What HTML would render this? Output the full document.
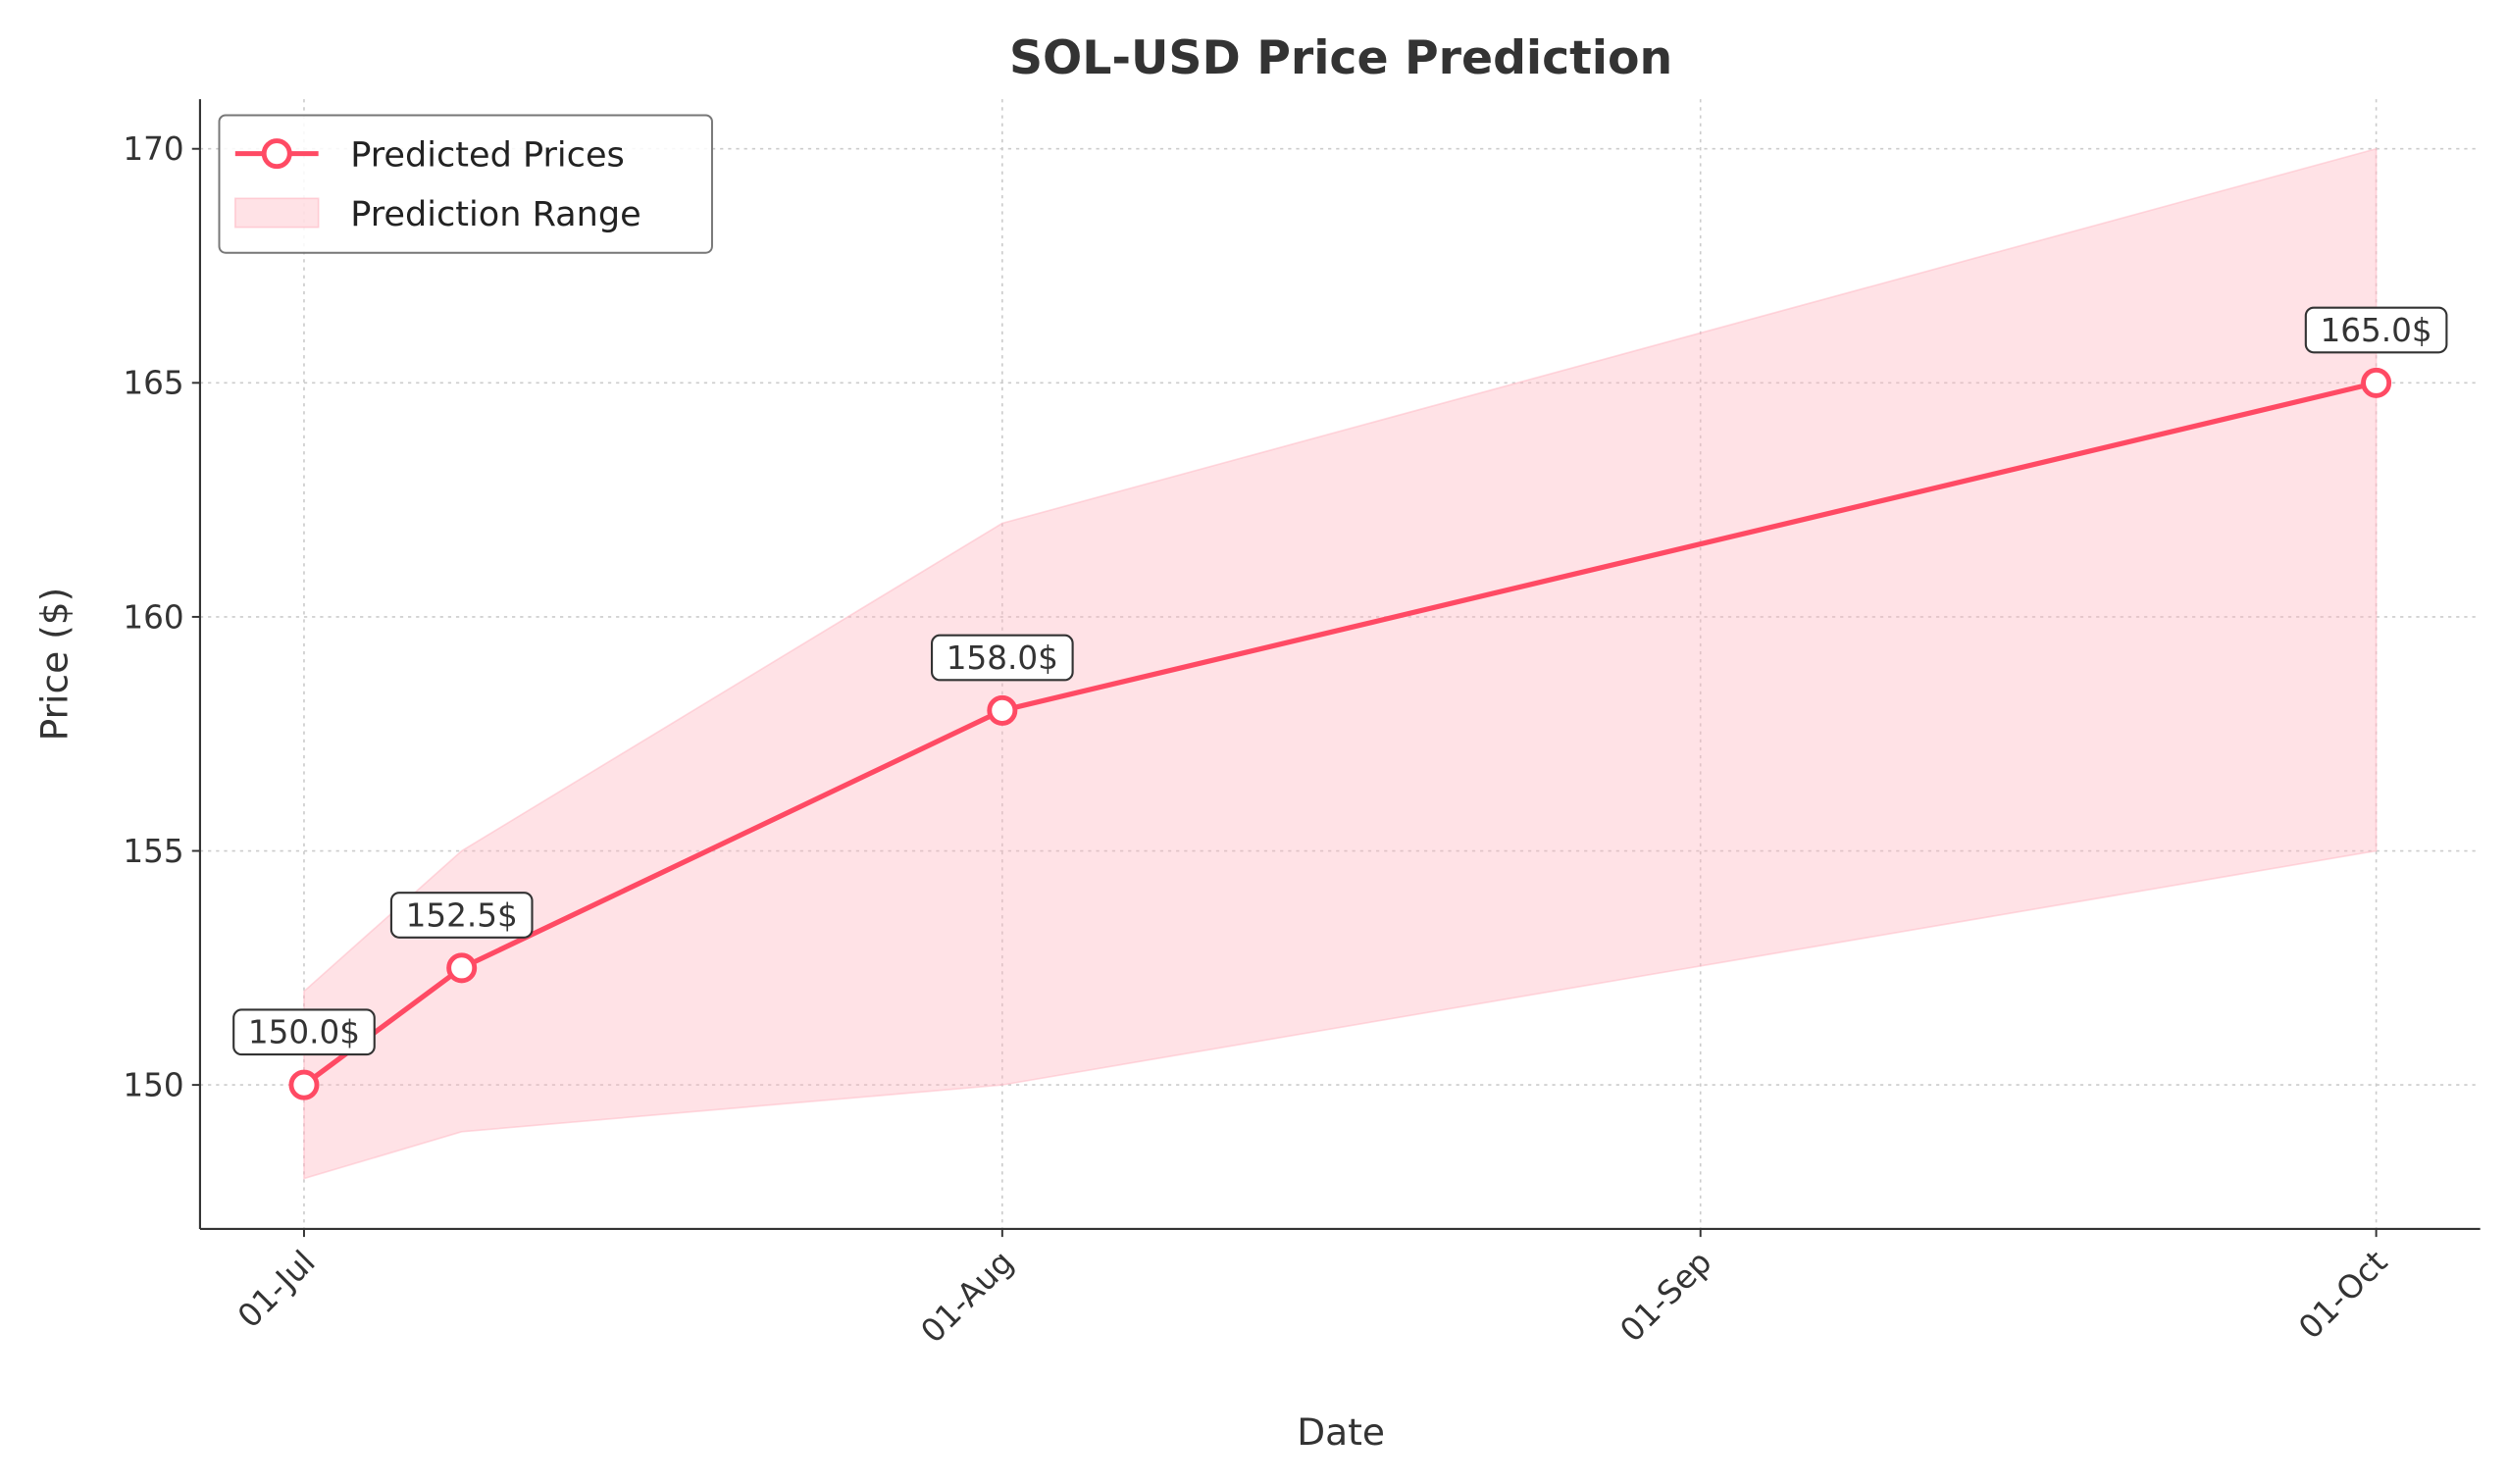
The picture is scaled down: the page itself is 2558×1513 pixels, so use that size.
<!DOCTYPE html>
<html><head><meta charset="utf-8"><style>
html,body{margin:0;padding:0;background:#fff;}
svg{display:block;font-family:"DejaVu Sans","Liberation Sans",sans-serif;}
</style></head><body>
<svg id="chart" width="2558" height="1513" viewBox="0 0 1568 927.4" preserveAspectRatio="none" xmlns="http://www.w3.org/2000/svg">
<rect width="1568" height="928" fill="#fff"/>
<text x="838" y="46" text-anchor="middle" font-size="29" font-weight="bold" fill="#333">SOL-USD Price Prediction</text>
<g id="grid"></g>
<g id="band"></g>
<g id="line"></g>
<g id="axes"></g>
<text x="838" y="903" text-anchor="middle" font-size="23" fill="#333">Date</text>
<text transform="translate(42,415) rotate(-90)" text-anchor="middle" font-size="23" fill="#333">Price ($)</text>
<g>
<rect x="137" y="72" width="308" height="86" rx="4" fill="#fff" fill-opacity="0.85" stroke="#777" stroke-width="1.2"/>
<line x1="147" y1="96" x2="199" y2="96" stroke="#ff4a64" stroke-width="3"/>
<circle cx="173" cy="96" r="8" fill="#fff" stroke="#ff4a64" stroke-width="3"/>
<text x="219" y="104" font-size="21.5" fill="#222">Predicted Prices</text>
<rect x="147" y="124" width="52" height="18" fill="#ffb6c1" fill-opacity="0.4" stroke="#ffb6c1" stroke-opacity="0.6"/>
<text x="219" y="141" font-size="21.5" fill="#222">Prediction Range</text>
</g>
</svg>
<script>
const dates=[0,7,31,92]; // days from 01-Jul
const predicted=[150.0,152.5,158.0,165.0];
const lower=[148,149,150,155];
const upper=[152,155,162,170];
const yTicks=[150,155,160,165,170];
const xTickDays=[0,31,62,92];
const xTickLabels=['01-Jul','01-Aug','01-Sep','01-Oct'];
const NS='http://www.w3.org/2000/svg';
const X0=125,X1=1550,Y0=62,Y1=768;
function xs(d){return 190+d*(1485-190)/92;}
function ys(v){return 678-(v-150)*(678-93)/20;}
function mk(tag,attrs,parent){const e=document.createElementNS(NS,tag);for(const k in attrs)e.setAttribute(k,attrs[k]);parent.appendChild(e);return e;}
const grid=document.getElementById('grid'),band=document.getElementById('band'),line=document.getElementById('line'),axes=document.getElementById('axes');
yTicks.forEach(v=>{const g=mk('line',{x1:X0,x2:X1,y1:ys(v),y2:ys(v),stroke:'#ccc','stroke-dasharray':'2,3','stroke-width':1},grid);


const t=mk('line',{x1:X0-5,x2:X0,y1:ys(v),y2:ys(v),stroke:'#333','stroke-width':1.2},axes);


const l=mk('text',{x:X0-10,y:ys(v)+7,'text-anchor':'end','font-size':'20',fill:'#333'},axes);l.textContent=v;

});
xTickDays.forEach((d,i)=>{const g=mk('line',{x1:xs(d),x2:xs(d),y1:Y0,y2:Y1,stroke:'#ccc','stroke-dasharray':'2,3','stroke-width':1},grid);


const t=mk('line',{x1:xs(d),x2:xs(d),y1:Y1,y2:Y1+5,stroke:'#333','stroke-width':1.2},axes);


const l=mk('text',{transform:`translate(${xs(d)+8},${Y1+22}) rotate(-45)`,'text-anchor':'end','font-size':'20',fill:'#333'},axes);l.textContent=xTickLabels[i];

});
let pts=dates.map((d,i)=>xs(d)+','+ys(upper[i]));
for(let i=dates.length-1;i>=0;i--)pts.push(xs(dates[i])+','+ys(lower[i]));
const poly=mk('polygon',{points:pts.join(' '),fill:'#ffb6c1','fill-opacity':0.4,stroke:'#ffb6c1','stroke-opacity':0.5},band);


const pl=mk('polyline',{points:dates.map((d,i)=>xs(d)+','+ys(predicted[i])).join(' '),fill:'none',stroke:'#ff4a64','stroke-width':3.2},line);


dates.forEach((d,i)=>{const c=mk('circle',{cx:xs(d),cy:ys(predicted[i]),r:8,fill:'#fff',stroke:'#ff4a64','stroke-width':3},line);


const cx=xs(d),cy=ys(predicted[i])-33;
const r=mk('rect',{x:cx-44,y:cy-14,width:88,height:28,rx:5,fill:'#fff',stroke:'#333','stroke-width':1.3},line);


const t=mk('text',{x:cx,y:cy+7,'text-anchor':'middle','font-size':'20',fill:'#333'},line);t.textContent=predicted[i].toFixed(1)+'$';

});
const ls=mk('line',{x1:X0,x2:X0,y1:Y0,y2:Y1,stroke:'#333','stroke-width':1.3},axes);


const bs=mk('line',{x1:X0,x2:X1,y1:Y1,y2:Y1,stroke:'#333','stroke-width':1.3},axes);


</script>
</body></html>
